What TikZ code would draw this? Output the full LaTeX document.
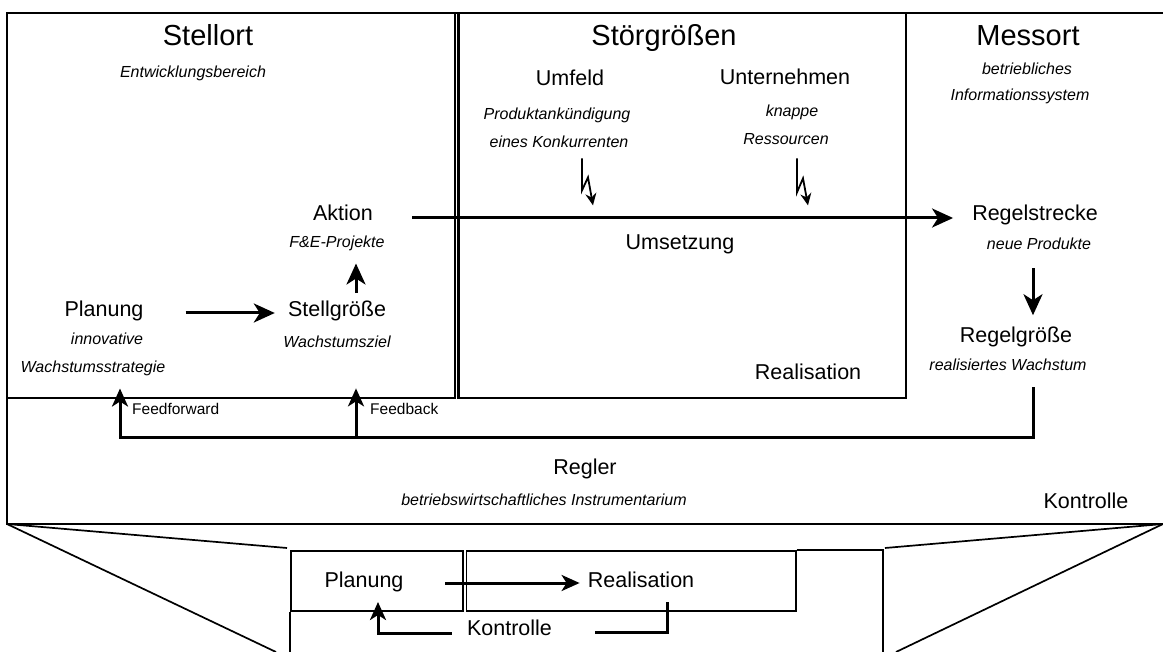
\documentclass[tikz,border=0pt]{standalone}
\usepackage{fontspec}
\setmainfont{Liberation Sans}
\usetikzlibrary{arrows.meta}
\begin{document}
\begin{tikzpicture}[x=1pt,y=-1pt,
  ttl/.style={font=\fontsize{29}{32}\selectfont, anchor=base, inner sep=0pt},
  lab/.style={font=\fontsize{21.5}{24}\selectfont, anchor=base, inner sep=0pt},
  subl/.style={font=\fontsize{16}{18}\selectfont\itshape, anchor=base, inner sep=0pt},
  note/.style={font=\fontsize{15.5}{18}\selectfont, anchor=base west, inner sep=0pt},
  boxline/.style={line width=2.2pt, line join=miter},
  ruleline/.style={line width=1.7pt, line join=miter},
  flowarr/.style={line width=3pt, -{Stealth[length=21pt,width=19pt,inset=6pt]}},
  backarr/.style={line width=3pt, line join=miter, -{Stealth[length=18pt,width=16pt,inset=5pt]}},
  backline/.style={line width=3pt, line join=miter},
  boltarr/.style={line width=1.8pt, line join=miter, -{Stealth[length=12pt,width=11pt,inset=4pt]}},
]
\useasboundingbox (0,0) rectangle (1163,652);

% ---- frames of the control loop ----
\draw[boxline] (7,13) -- (1163,13);
\draw[boxline] (7,13) rectangle (455,398);
\draw[boxline] (458.5,13) rectangle (906,398);
\draw[ruleline] (7,398) -- (7,524) -- (1163,524);

% ---- zoom lines towards the small scheme ----
\draw[ruleline] (7,524) -- (287,548);
\draw[ruleline] (7,524) -- (276,652);
\draw[ruleline] (1163,524) -- (885,548);
\draw[ruleline] (1163,524) -- (896,652);

% ---- Stellort ----
\node[ttl] (stellort) at (208,46) {Stellort};
\node[subl] (entw) at (193,78) {Entwicklungsbereich};
\node[lab] (aktion) at (343,221) {Aktion};
\node[subl] (fe) at (337,248) {F\&E-Projekte};
\node[lab] (planung) at (104,317) {Planung};
\node[subl] (innov) at (107,345) {innovative};
\node[subl] (wstrat) at (93,373) {Wachstumsstrategie};
\node[lab] (stellgr) at (337,317) {Stellgröße};
\node[subl] (wziel) at (337,348) {Wachstumsziel};

% ---- Störgrößen ----
\node[ttl] (stoer) at (664,46) {Störgrößen};
\node[lab] (umfeld) at (570,86) {Umfeld};
\node[subl] (prod) at (557,120) {Produktankündigung};
\node[subl] (konk) at (559,148) {eines Konkurrenten};
\node[lab] (untern) at (785,85) {Unternehmen};
\node[subl] (knapp) at (792,117) {knappe};
\node[subl] (ress) at (786,145) {Ressourcen};
\node[lab] (umsetz) at (680,250) {Umsetzung};
\node[lab] (realis) at (808,380) {Realisation};

% ---- Messort ----
\node[ttl] (messort) at (1028,46) {Messort};
\node[subl] (betr) at (1027,75) {betriebliches};
\node[subl] (info) at (1020,101) {Informationssystem};
\node[lab] (rstrecke) at (1035,221) {Regelstrecke};
\node[subl] (neuprod) at (1039,250) {neue Produkte};
\node[lab] (rgroesse) at (1016,343) {Regelgröße};
\node[subl] (rwachs) at (1008,371) {realisiertes Wachstum};

% ---- Regler ----
\node[note] (ffw) at (132,415) {Feedforward};
\node[note] (fb) at (370,415) {Feedback};
\node[lab] (regler) at (585,475) {Regler};
\node[subl] (instr) at (544,505) {betriebswirtschaftliches Instrumentarium};
\node[lab] (kontr) at (1086,508) {Kontrolle};

% ---- connectors of the loop ----
\draw[flowarr, shorten <=42pt, shorten >=13pt]
  ([yshift=4pt]planung.base east) -- ([yshift=4pt]stellgr.base west);
\draw[flowarr, shorten <=8pt, shorten >=12pt]
  ([xshift=19pt]stellgr.north) -- ([xshift=19pt]fe.south);
\draw[flowarr, shorten <=39pt, shorten >=19pt]
  ([yshift=3pt]aktion.base east) -- ([yshift=3pt]rstrecke.base west);
\draw[flowarr, shorten <=18pt, shorten >=12pt]
  ([xshift=-6pt]neuprod.south) -- ([xshift=17pt]rgroesse.north);

% feedback / feedforward
\draw[backarr]
  ([xshift=25pt,yshift=-16pt]rwachs.south) -- ++(0,50)
  -| ([xshift=27pt,yshift=-12pt]wstrat.south);
\draw[backarr]
  ([xshift=25pt,yshift=-16pt]rwachs.south) ++(0,50)
  -| ([xshift=19pt,yshift=-40pt]wziel.south);

% disturbances
\draw[boltarr] ([xshift=23pt,yshift=-10pt]konk.south)
  -- ++(0,32) -- ++(6,-13) -- ++(5,28);
\draw[boltarr] ([xshift=11pt,yshift=-13pt]ress.south)
  -- ++(0,34) -- ++(6,-14) -- ++(5,27);

% ---- small scheme: Planung - Realisation - Kontrolle ----
\node[draw, ruleline, anchor=north west, minimum width=172pt, minimum height=60pt,
  inner sep=0pt] (pbox) at (290,550) {};
\node[draw, ruleline, anchor=north west, minimum width=329.5pt, minimum height=60pt,
  inner sep=0pt] (rbox) at (465.5,550) {};
\coordinate (outerTR) at (883,550);
\coordinate (outerBR) at (883,652);
\coordinate (outerBL) at (290,652);
\draw[ruleline] (pbox.south west) -- (outerBL);
\draw[ruleline] (rbox.north east) -- (outerTR) -- (outerBR);

\node[lab] (planung2) at (364,587) {Planung};
\node[lab] (realis2) at (641,587) {Realisation};
\node[lab] (kontr2) at (509.5,635) {Kontrolle};

\draw[backarr, shorten <=41.5pt, shorten >=8pt]
  ([yshift=4pt]planung2.base east) -- ([yshift=4pt]realis2.base west);
\draw[backline]
  ([xshift=43pt,yshift=3pt]kontr2.base east) -| ([xshift=26pt,yshift=-15pt]realis2.base);
\draw[backarr]
  ([xshift=-15pt,yshift=2pt]kontr2.base west) -| ([xshift=14pt,yshift=-15pt]planung2.base);
\end{tikzpicture}
\end{document}
